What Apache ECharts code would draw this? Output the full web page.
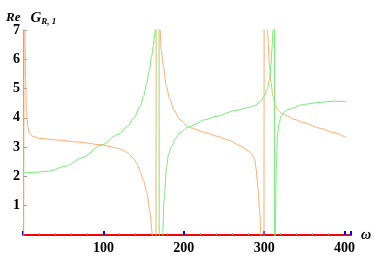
<!DOCTYPE html>
<html>
<head>
<meta charset="utf-8">
<script src="https://cdn.jsdelivr.net/npm/echarts@6/dist/echarts.min.js"></script>
<style>html,body{margin:0;padding:0;background:#fff;}#c{width:374px;height:260px;}</style>
</head>
<body>
<div id="c"></div>
<script>
// tick labels
const xTicks = [100, 200, 300, 400];
const yTicks = [1, 2, 3, 4, 5, 6, 7];

// Orange curve: omega and Re values (null = break between branches; values beyond range are clipped)
const orangeOmega = [0.8, 1.3, 1.5,
  2.2, 2.6, 3.2, 4.3, 6, 8, 12, 20, 44, 70, 97, 110, 118, 125, 130, 138, 142, 146, 150, 154, 158, 160.7, 161.3, 162,
  165.4, 165.6, 166,
  170.2, 170.5, 172, 174.6, 178, 182.7, 188, 195, 207, 227, 240, 255, 270, 280, 285, 288, 290, 292, 294.5, 295.7, 296.3, 297,
  299.7, 299.9, 301,
  303.7, 304, 306.7, 308.5, 310.7, 313.5, 316.8, 322, 329, 337, 349, 370, 386, 402];
const orangeRe = [-1, 8, null,
  8, 6.5, 5.3, 4.2, 3.7, 3.48, 3.37, 3.3, 3.24, 3.17, 3.08, 3.01, 2.96, 2.89, 2.81, 2.6, 2.42, 2.15, 1.85, 1.45, 0.77, 0.08, -0.5, null,
  -1, 8, null,
  8, 7.0, 6.3, 5.76, 5.1, 4.63, 4.25, 3.94, 3.67, 3.5, 3.38, 3.25, 3.05, 2.88, 2.75, 2.6, 2.25, 1.66, 0.77, 0.08, -0.5, null,
  -1, 8, null,
  8, 6.96, 5.76, 5.2, 4.74, 4.45, 4.28, 4.15, 4.06, 3.95, 3.84, 3.64, 3.5, 3.32];

// Green curve
const greenOmega = [0, 15, 32, 53, 73, 97, 118, 130, 138, 146, 150, 154, 157, 160, 162, 164, 165, 166,
  169.2, 169.4, 170,
  173.6, 173.8, 175.4, 178.7, 181, 184.8, 190, 195, 207, 227, 240, 264, 280, 288, 295, 300, 304, 306.7, 308.5, 309.5, 311, 311.5, 312,
  312.8, 313.0, 313.2,
  313.5, 314, 315, 316.8, 318.5, 321, 325, 329, 349, 370, 386, 402];
const greenRe = [2.13, 2.14, 2.18, 2.35, 2.63, 3.06, 3.43, 3.71, 4.0, 4.4, 4.75, 5.2, 5.6, 6.1, 6.45, 6.9, 7.3, null,
  8, -1, null,
  -0.3, 0.08, 1.21, 2.35, 2.75, 3.03, 3.3, 3.49, 3.71, 3.94, 4.05, 4.25, 4.35, 4.42, 4.55, 4.74, 5.0, 5.31, 5.8, 6.33, 7.0, 7.5, null,
  8, -1, null,
  -0.5, 0.6, 2.35, 3.5, 3.8, 4.06, 4.2, 4.28, 4.46, 4.53, 4.57, 4.55];

const orangeData = orangeOmega.map((w, i) => [w, orangeRe[i]]);
const greenData = greenOmega.map((w, i) => [w, greenRe[i]]);

const chart = echarts.init(document.getElementById('c'));
chart.setOption({
  animation: false,
  title: {
    left: 1, top: 4,
    text: '{a|Re}  {g|G}{s|R, 1}',
    textStyle: {
      rich: {
        a: {fontFamily: 'Liberation Serif', fontStyle: 'italic', fontWeight: 'bold', fontSize: 13, color: '#000'},
        g: {fontFamily: 'Liberation Serif', fontStyle: 'italic', fontWeight: 'bold', fontSize: 15, color: '#000'},
        s: {fontFamily: 'Liberation Serif', fontStyle: 'italic', fontWeight: 'bold', fontSize: 9, color: '#000', padding: [8, 0, 0, 0]}
      }
    }
  },
  grid: {left: 23, right: 16, top: 30, bottom: 25},
  xAxis: {type: 'value', min: 0, max: 408, interval: 100,
    name: 'ω', nameLocation: 'end', nameGap: 5,
    nameTextStyle: {fontFamily: 'Liberation Serif', fontStyle: 'italic', fontWeight: 'bold', fontSize: 14, color: '#000'},
    axisLine: {show: true, lineStyle: {color: '#ff0000', width: 2}},
    axisTick: {show: true, inside: true, length: 4, lineStyle: {color: '#0000ff', width: 2}},
    minorTick: {show: true, splitNumber: 5, length: 2, lineStyle: {color: '#a6a6a6'}},
    splitLine: {show: false},
    axisLabel: {margin: 6, showMinLabel: false, showMaxLabel: false,
      fontFamily: 'Liberation Serif', fontWeight: 'bold', fontSize: 14, color: '#000'}},
  yAxis: {type: 'value', min: 0, max: 7, interval: 1,
    axisLine: {show: true, lineStyle: {color: '#999999', width: 1}},
    axisTick: {show: true, inside: true, length: 4, lineStyle: {color: '#999999', width: 1}},
    splitLine: {show: false},
    axisLabel: {margin: 3, showMinLabel: false,
      fontFamily: 'Liberation Serif', fontWeight: 'bold', fontSize: 14, color: '#000'}},
  series: [
    {type: 'line', data: orangeData, showSymbol: false, smooth: 0.3, smoothMonotone: 'x',
     lineStyle: {color: 'rgb(255,172,105)', width: 1}},
    {type: 'line', data: greenData, showSymbol: false, smooth: 0.3, smoothMonotone: 'x',
     lineStyle: {color: 'rgb(115,235,115)', width: 1}}
  ]
});
</script>
</body>
</html>
